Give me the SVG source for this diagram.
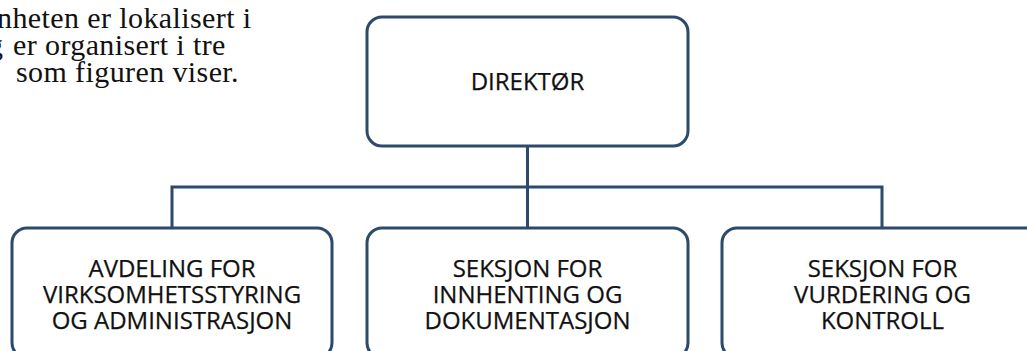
<svg xmlns="http://www.w3.org/2000/svg" width="1027" height="351" viewBox="0 0 1027 351">
<style>
.box{fill:#ffffff;stroke:#2d4a6d;stroke-width:3}
.con{fill:none;stroke:#2d4a6d;stroke-width:3}
.lbl{font-family:"Open Sans","Noto Sans",sans-serif;font-weight:500;font-size:24px;fill:#111111;text-anchor:middle;stroke:#111111;stroke-width:0.25px}
.intro{font-family:"Liberation Serif","Times New Roman",serif;font-size:30px;letter-spacing:0.4px;fill:#111111}
</style>
<rect width="1027" height="351" fill="#ffffff"/>
<g id="intro">
<text class="intro" x="-3" y="28">nheten er lokalisert i</text>
<text class="intro" x="-12" y="55">g</text>
<text class="intro" x="13" y="55">er organisert i tre</text>
<text class="intro" x="16" y="82">som figuren viser.</text>
</g>
<g id="connectors">
<line class="con" x1="527.5" y1="146" x2="527.5" y2="228"/>
<polyline class="con" points="172,228 172,187 882,187 882,228"/>
</g>
<g id="direktor">
<rect class="box" x="367" y="17" width="321" height="129" rx="15"/>
<text class="lbl" x="527.5" y="90">DIREKTØR</text>
</g>
<g id="avdeling">
<rect class="box" x="12" y="228" width="320" height="130" rx="15"/>
<text class="lbl" x="172" y="277">AVDELING FOR</text>
<text class="lbl" x="172" y="303">VIRKSOMHETSSTYRING</text>
<text class="lbl" x="172" y="329">OG ADMINISTRASJON</text>
</g>
<g id="innhenting">
<rect class="box" x="367" y="228" width="321" height="130" rx="15"/>
<text class="lbl" x="527.5" y="277">SEKSJON FOR</text>
<text class="lbl" x="527.5" y="303">INNHENTING OG</text>
<text class="lbl" x="527.5" y="329">DOKUMENTASJON</text>
</g>
<g id="vurdering">
<rect class="box" x="722" y="228" width="321" height="130" rx="15"/>
<text class="lbl" x="882.5" y="277">SEKSJON FOR</text>
<text class="lbl" x="882.5" y="303">VURDERING OG</text>
<text class="lbl" x="882.5" y="329">KONTROLL</text>
</g>
</svg>
